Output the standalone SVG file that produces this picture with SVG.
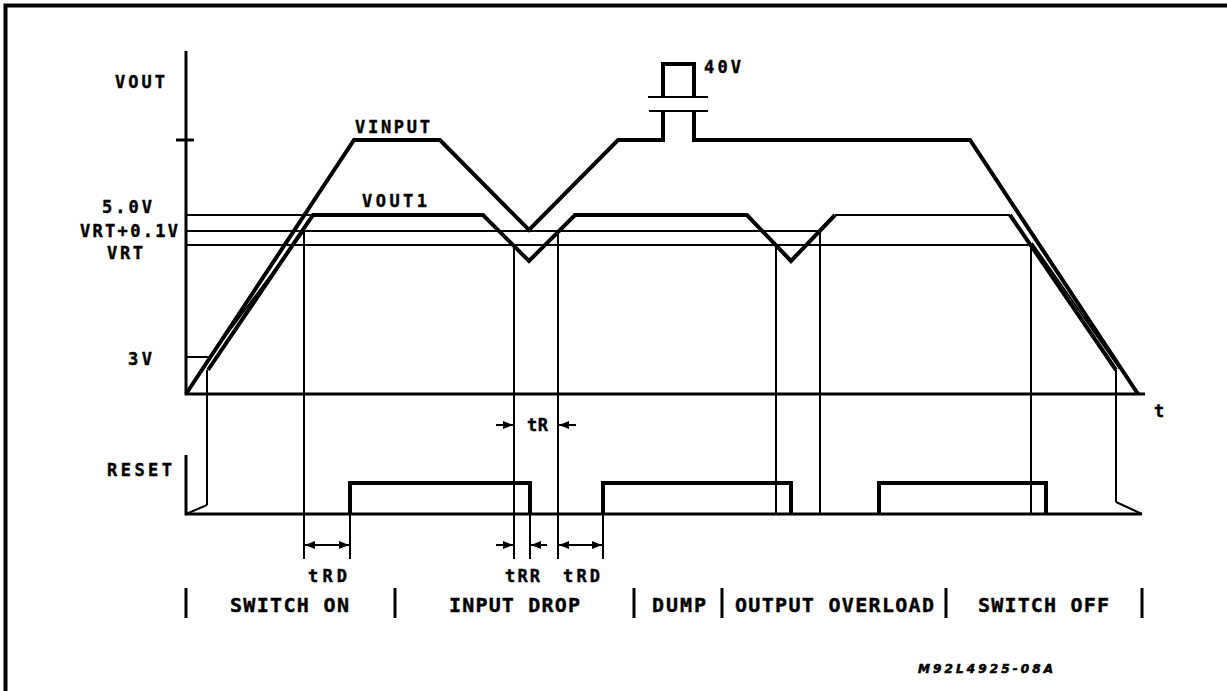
<svg xmlns="http://www.w3.org/2000/svg" width="1227" height="691" viewBox="0 0 1227 691">
<style>
.thin{fill:none;stroke:#000;stroke-width:2}
.mid{fill:none;stroke:#000;stroke-width:3}
.thick{fill:none;stroke:#000;stroke-width:4;stroke-linejoin:miter}
text{font-family:"DejaVu Sans Mono","Liberation Mono",monospace;font-weight:bold;font-size:17px;fill:#000;stroke:#000;stroke-width:0.4}
.sec{font-size:20px}
.small{font-family:"DejaVu Sans","Liberation Sans",sans-serif;font-size:12px;font-style:italic;stroke-width:0.6}
</style>
<defs>
<marker id="ah" viewBox="0 0 10 8" refX="10" refY="4" markerWidth="10" markerHeight="8" markerUnits="userSpaceOnUse" orient="auto">
<path d="M0,0 L10,4 L0,8 Z" fill="#000"/>
</marker>
</defs>
<rect width="1227" height="691" fill="#fff"/>
<g id="frame">
<path class="thick" d="M5.5,691 V5.5 H1227"/>
</g>
<g id="axes">
<path class="mid" d="M186,51 V394 H1145"/>
<path class="mid" d="M176,140 H194"/>
<path class="mid" d="M186,455 V514 H1142"/>
</g>
<g id="reference-levels">
<path class="thin" d="M186,215 H313"/>
<path class="thin" d="M186,231 H820"/>
<path class="thin" d="M186,245 H1031"/>
<path class="thin" d="M186,357 H210"/>
</g>
<g id="vinput">
<path class="thick" d="M186,394 L354,140 H440 L529,230 L618,140 H663 V111"/>
<path class="thick" d="M663,97 V64 H694 V97"/>
<path class="thick" d="M694,111 V140 H970 L1138,394"/>
<path class="thin" d="M648,97 H708 M649,111 H708"/>
</g>
<g id="vout1">
<path class="thick" d="M208,370 L313,215 H483 L529,261 L575,215 H747 L791,261 L835,215"/>
<path class="thin" d="M835,215 H1010"/>
<path class="thick" d="M1010,215 L1116,370"/>
<path class="thin" d="M206,362 L304,231"/>
<path class="thin" d="M1032,243 L1120,369"/>
</g>
<g id="reset">
<path class="thin" d="M186,514 L207,505"/>
<path class="thick" d="M350,514 V483 H530 V514"/>
<path class="thick" d="M603,514 V483 H791 V514"/>
<path class="thick" d="M879,514 V483 H1046 V514"/>
<path class="thin" d="M1116,502 L1142,514"/>
</g>
<g id="markers">
<path class="thin" d="M207,370 V505"/>
<path class="thin" d="M304,231 V559"/>
<path class="thin" d="M350,483 V559"/>
<path class="thin" d="M514,245 V559"/>
<path class="thin" d="M530,483 V559"/>
<path class="thin" d="M558,231 V559"/>
<path class="thin" d="M603,483 V559"/>
<path class="thin" d="M776,245 V515"/>
<path class="thin" d="M820,231 V515"/>
<path class="thin" d="M1031,245 V515"/>
<path class="thin" d="M1116,370 V502"/>
</g>
<g id="dimensions">
<path class="thin" d="M496,425 H513" marker-end="url(#ah)"/>
<path class="thin" d="M576,425 H559" marker-end="url(#ah)"/>
<path class="thin" d="M327,545 H305" marker-end="url(#ah)"/>
<path class="thin" d="M327,545 H349" marker-end="url(#ah)"/>
<path class="thin" d="M496,545 H513" marker-end="url(#ah)"/>
<path class="thin" d="M547,545 H531" marker-end="url(#ah)"/>
<path class="thin" d="M580,545 H559" marker-end="url(#ah)"/>
<path class="thin" d="M580,545 H602" marker-end="url(#ah)"/>
</g>
<g id="section-bars">
<path class="mid" d="M186,588 V618 M395,588 V618 M634,588 V618 M722,588 V618 M946,588 V618 M1142,588 V618"/>
</g>
<g id="labels">
<text x="115" y="88" textLength="50">VOUT</text>
<text x="355" y="133" textLength="75">VINPUT</text>
<text x="362" y="207" textLength="65">VOUT1</text>
<text x="704" y="73" textLength="37">40V</text>
<text x="102" y="213" textLength="50">5.0V</text>
<text x="80" y="237" textLength="98">VRT+0.1V</text>
<text x="107" y="259" textLength="36">VRT</text>
<text x="128" y="365" textLength="24">3V</text>
<text x="107" y="476" textLength="65">RESET</text>
<text x="1154" y="417">t</text>
<text x="527" y="431" textLength="21">tR</text>
<text x="308" y="582" textLength="39">tRD</text>
<text x="505" y="582" textLength="35">tRR</text>
<text x="563" y="582" textLength="37">tRD</text>
<text class="sec" x="230" y="612" textLength="119">SWITCH ON</text>
<text class="sec" x="449" y="612" textLength="131">INPUT DROP</text>
<text class="sec" x="652" y="612" textLength="54">DUMP</text>
<text class="sec" x="735" y="612" textLength="199">OUTPUT OVERLOAD</text>
<text class="sec" x="978" y="612" textLength="131">SWITCH OFF</text>
<text class="small" x="918" y="673" textLength="135">M92L4925-08A</text>
</g>
</svg>
